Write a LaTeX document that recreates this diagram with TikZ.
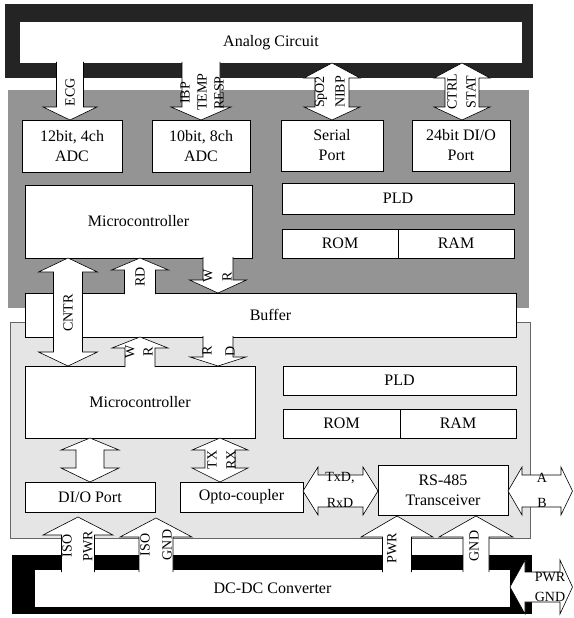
\documentclass[tikz,border=0pt]{standalone}
\usepackage{fontspec}
\setmainfont{Liberation Serif}
\definecolor{boardA}{gray}{0.58}
\definecolor{boardB}{gray}{0.90}
\definecolor{frameA}{gray}{0.14}
\tikzset{
  box/.style={draw, fill=white, line width=0.6pt, inner sep=0pt, outer sep=0pt, align=center, font=\fontsize{16}{20}\selectfont},
  blk/.style={fill=white, draw=black, line width=0.6pt, line join=miter},
  lbl/.style={font=\fontsize{14}{14}\selectfont, inner sep=0pt},
  lblv/.style={lbl, rotate=90}
}
\newcommand\BoxNode[6]{\node[box, minimum width=#4-#2, minimum height=#5-#3] (#1) at ({(#2+#4)/2},{(#3+#5)/2}) {#6};}
\newcommand\VArrow[6]{\filldraw[blk] (#1-#2,#4) -- (#1-#2,#5) -- (#1-#3,#5) -- (#1,#6) -- (#1+#3,#5) -- (#1+#2,#5) -- (#1+#2,#4);}
\newcommand\VDouble[7]{\filldraw[blk] (#1,#4) -- (#1+#3,#5) -- (#1+#2,#5) -- (#1+#2,#6) -- (#1+#3,#6) -- (#1,#7) -- (#1-#3,#6) -- (#1-#2,#6) -- (#1-#2,#5) -- (#1-#3,#5) -- cycle;}
\newcommand\HDouble[7]{\filldraw[blk] (#4,#1) -- (#5,#1-#3) -- (#5,#1-#2) -- (#6,#1-#2) -- (#6,#1-#3) -- (#7,#1) -- (#6,#1+#3) -- (#6,#1+#2) -- (#5,#1+#2) -- (#5,#1+#3) -- cycle;}
\begin{document}
\begin{tikzpicture}[x=1pt, y=-1pt]
\useasboundingbox (0,0) rectangle (573,618);
% frames
\fill[frameA] (5,4) rectangle (533,78);
\node[fill=white, inner sep=0pt, minimum width=502, minimum height=41, font=\fontsize{16}{20}\selectfont] (analog) at (271,42.5) {Analog Circuit};
\fill[black] (12,555) rectangle (532,614);
\node[fill=white, inner sep=0pt, minimum width=475, minimum height=37, font=\fontsize{16}{20}\selectfont] (dcdc) at (272.5,588.5) {DC-DC Converter};
% boards
\fill[boardA] (8,90) rectangle (529,308);
\filldraw[fill=boardB, draw=black!60, line width=0.4pt] (10,322) rectangle (530,538);
% upper blocks
\BoxNode{adc1}{22}{120}{122}{172}{12bit, 4ch\\ADC}
\BoxNode{adc2}{152}{120}{250}{172}{10bit, 8ch\\ADC}
\BoxNode{serial}{281}{120}{383}{171}{Serial\\Port}
\BoxNode{dio24}{412}{120}{510}{171}{24bit DI/O\\Port}
\BoxNode{mcu1}{25}{185}{252}{258}{Microcontroller}
\BoxNode{pld1}{282}{183}{514}{214}{PLD}
\BoxNode{rom1}{282}{229}{398}{258}{ROM}
\BoxNode{ram1}{398}{229}{514}{258}{RAM}
\BoxNode{buffer}{25}{293}{516}{337}{Buffer}
% lower blocks
\BoxNode{mcu2}{25}{366}{255}{438}{Microcontroller}
\BoxNode{pld2}{283}{366}{516}{395}{PLD}
\BoxNode{rom2}{283}{409}{400}{438}{ROM}
\BoxNode{ram2}{400}{409}{516}{438}{RAM}
\BoxNode{dio}{25}{482}{155}{512}{DI/O Port}
\BoxNode{opto}{180}{482}{303}{512}{Opto-coupler}
\BoxNode{rs485}{378}{465}{508}{515}{RS-485\\Transceiver}
% arrows: analog -> upper board
\VArrow{70}{13.5}{27}{62}{107}{120}
\VArrow{201}{19}{30}{62}{107}{120}
\VDouble{332}{17}{28}{63}{78}{107}{120}
\VDouble{462}{17}{28}{63}{78}{107}{120}
% upper board <-> buffer <-> lower board
\VDouble{68}{14.5}{29.5}{258}{272}{352}{366}
\VArrow{140}{15.5}{28.5}{294}{270}{258}
\VArrow{218}{15}{28.5}{257}{280}{293}
\VArrow{140}{15}{28}{367}{348}{337}
\VArrow{218}{15}{28}{336}{357}{366}
% lower board
\VDouble{90}{14}{29}{438}{450}{468}{482}
\VDouble{220}{15}{28}{438}{450}{468}{482}
\HDouble{491}{16}{24}{303}{318}{363}{378}
\HDouble{491}{16}{24}{508}{522}{561}{572.5}
% power
\VArrow{78}{16.5}{35}{572}{535}{517}
\VArrow{156}{17}{36}{572}{537}{518}
\VArrow{397}{14.5}{36}{572}{537}{516}
\VArrow{476}{13}{37}{572}{537}{516}
\HDouble{587}{15}{27}{510}{525}{560}{572.5}
% labels
\node[lblv] (tECG) at (70,92) {ECG};
\node[lblv] (tIBP) at (185,93) {IBP};
\node[lblv] (tTEMP) at (202,92) {TEMP};
\node[lblv] (tRESP) at (219,93) {RESP};
\node[lblv] (tSPO) at (321,92) {SpO2};
\node[lblv] (tNIBP) at (340,92) {NIBP};
\node[lblv] (tCTRL) at (452,92) {CTRL};
\node[lblv] (tSTAT) at (471,92) {STAT};
\node[lblv] (tCNTR) at (68,313) {CNTR};
\node[lblv] (tRD1) at (140,277) {RD};
\node[lblv] (tW1) at (208,276) {W};
\node[lblv] (tR1) at (227,277) {R};
\node[lblv] (tW2) at (130,352) {W};
\node[lblv] (tR2) at (148,352) {R};
\node[lblv] (tR3) at (207,351) {R};
\node[lblv] (tD3) at (230,351) {D};
\node[lblv] (tTX) at (212,460) {TX};
\node[lblv] (tRX) at (231,460) {RX};
\node[lblv] (tISO1) at (67,546) {ISO};
\node[lblv] (tPWR1) at (88,546) {PWR};
\node[lblv] (tISO2) at (145,545) {ISO};
\node[lblv] (tGND2) at (167,545) {GND};
\node[lblv] (tPWR3) at (392,548) {PWR};
\node[lblv] (tGND3) at (474,546) {GND};
\node[lbl] (tTxD) at (340,478) {TxD,};
\node[lbl] (tRxD) at (340,503) {RxD};
\node[lbl] (tA) at (542,478) {A};
\node[lbl] (tB) at (542,503) {B};
\node[lbl] (tPWR4) at (550,577) {PWR};
\node[lbl] (tGND4) at (550,597) {GND};
\end{tikzpicture}
\end{document}
